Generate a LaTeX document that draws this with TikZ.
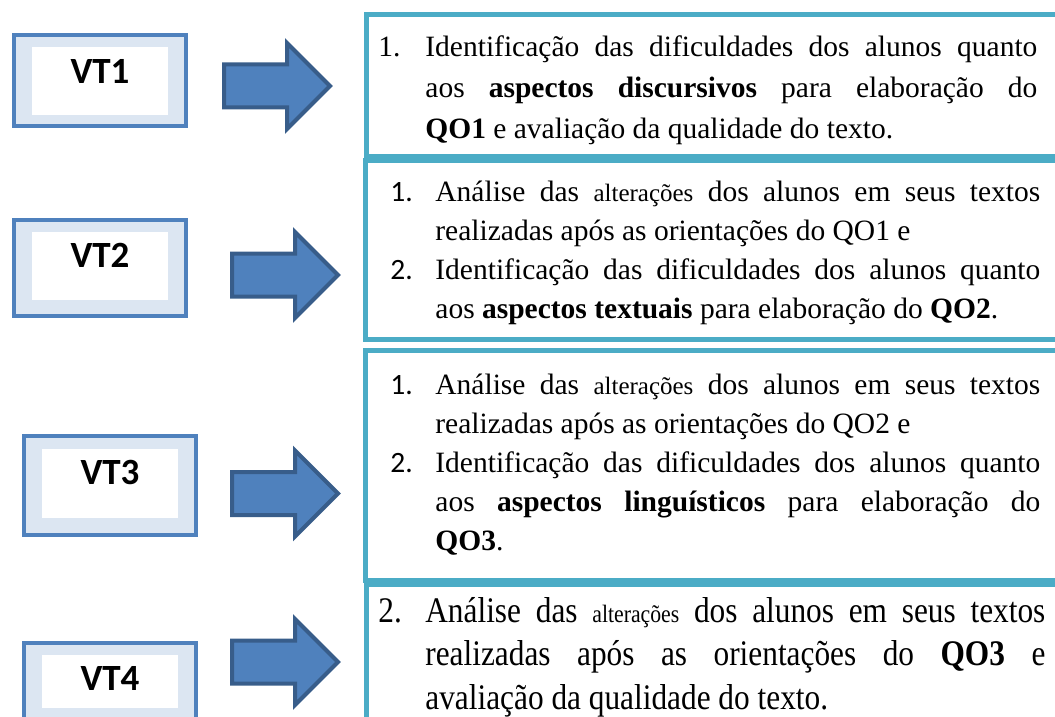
\documentclass[tikz,border=0pt]{standalone}
\usepackage{fontspec}
\setmainfont{Liberation Serif}
\newfontfamily\calibri{Carlito}
\newfontfamily\tallserif[FakeStretch=0.87]{Liberation Serif}
\usetikzlibrary{shapes.arrows, positioning}
\definecolor{vtblue}{RGB}{79,129,189}
\definecolor{vtfill}{RGB}{220,230,242}
\definecolor{arrowedge}{RGB}{56,93,138}
\definecolor{boxteal}{RGB}{75,172,198}
\newlength{\itemind}
\newcommand{\qitem}[2]{\par\noindent\hangindent=\itemind\hangafter=1\makebox[\itemind][l]{#1}#2\par}
\newcommand{\smallalt}[1]{{\fontsize{12.5pt}{10pt}\selectfont #1}}

\begin{document}
\begin{tikzpicture}[x=0.5pt, y=-0.5pt,
    vtbox/.style={draw=vtblue, fill=vtfill, line width=2pt, minimum width=86pt, inner sep=0pt, outer sep=0pt},
    vtlabel/.style={inner sep=0pt, font=\calibri\bfseries\fontsize{18.5pt}{20pt}\selectfont},
    blockarrow/.style={single arrow, draw=arrowedge, fill=vtblue, line width=2pt,
        single arrow head extend=10.75pt, single arrow tip angle=90, minimum height=53pt,
        inner xsep=0pt, inner ysep=9.75pt, outer sep=0pt, anchor=tip},
    qbox/.style={draw=boxteal, line width=2.5pt, minimum width=352pt, inner sep=0pt, outer sep=0pt},
    qtext/.style={anchor=west, inner sep=0pt, align=justify}]
    \useasboundingbox (0,0) rectangle (1055,717);
    \clip (0,0) rectangle (1055,717);

    % VT boxes
    \node[vtbox, minimum height=45.5pt] (vt1) at (100,80.5) {};
    \fill[white] ([shift={(18,12)}]vt1.north west) rectangle ([shift={(-18,-11)}]vt1.south east);
    \node[vtlabel] (vt1lbl) at (100,71) {VT1};

    \node[vtbox, minimum height=48pt] (vt2) at (100,268) {};
    \fill[white] ([shift={(18,12)}]vt2.north west) rectangle ([shift={(-18,-16)}]vt2.south east);
    \node[vtlabel] (vt2lbl) at (100,255.5) {VT2};

    \node[vtbox, minimum height=49.5pt] (vt3) at (110,485.5) {};
    \fill[white] ([shift={(18,13)}]vt3.north west) rectangle ([shift={(-18,-17)}]vt3.south east);
    \node[vtlabel] (vt3lbl) at (110,472.5) {VT3};

    \node[vtbox, minimum height=48.5pt] (vt4) at (110,691.5) {};
    \fill[white] ([shift={(18,12)}]vt4.north west) rectangle ([shift={(-18,-32)}]vt4.south east);
    \node[vtlabel] (vt4lbl) at (110,678.5) {VT4};

    % block arrows
    \node[blockarrow] (ar1) at (330,86) {};
    \node[blockarrow] (ar2) at (338,275) {};
    \node[blockarrow] (ar3) at (338,493.5) {};
    \node[blockarrow] (ar4) at (338,662) {};

    % text boxes
    \node[qbox, minimum height=71pt] (q1) at (718.5,86) {};
    \node[qbox, minimum height=89.25pt] (q2) at (717.75,249.75) {};
    \node[qbox, minimum height=115pt] (q3) at (717.75,465) {};
    \node[qbox, minimum height=70pt] (q4) at (718.25,654) {};

    \node[qtext, text width=329.5pt, font=\fontsize{14.75pt}{20.5pt}\selectfont] (q1txt) at (378,80) {%
        \setlength{\itemind}{23.5pt}%
        \qitem{1.}{Identificação das dificuldades dos alunos quanto\linebreak aos \textbf{aspectos discursivos} para elaboração do\linebreak \textbf{QO1} e avaliação da qualidade do texto.}};

    \node[qtext, text width=325pt, font=\fontsize{14.75pt}{19.5pt}\selectfont] (q2txt) at (390,244) {%
        \setlength{\itemind}{22.5pt}%
        \qitem{\calibri 1.}{Análise das \smallalt{alterações} dos alunos em seus textos\linebreak realizadas após as orientações do QO1 e}
        \qitem{\calibri 2.}{Identificação das dificuldades dos alunos quanto\linebreak aos \textbf{aspectos textuais} para elaboração do \textbf{QO2}.}};

    \node[qtext, text width=325pt, font=\fontsize{14.75pt}{19.5pt}\selectfont] (q3txt) at (390,455) {%
        \setlength{\itemind}{22.5pt}%
        \qitem{\calibri 1.}{Análise das \smallalt{alterações} dos alunos em seus textos\linebreak realizadas após as orientações do QO2 e}
        \qitem{\calibri 2.}{Identificação das dificuldades dos alunos quanto\linebreak aos \textbf{aspectos linguísticos} para elaboração do\linebreak \textbf{QO3}.}};

    \node[qtext, text width=333.5pt, font=\tallserif\fontsize{18pt}{21.75pt}\selectfont] (q4txt) at (378,648) {%
        \setlength{\itemind}{23.5pt}%
        \qitem{2.}{Análise das \smallalt{alterações} dos alunos em seus textos\linebreak realizadas após as orientações do \textbf{QO3} e\linebreak avaliação da qualidade do texto.}};
\end{tikzpicture}
\end{document}
